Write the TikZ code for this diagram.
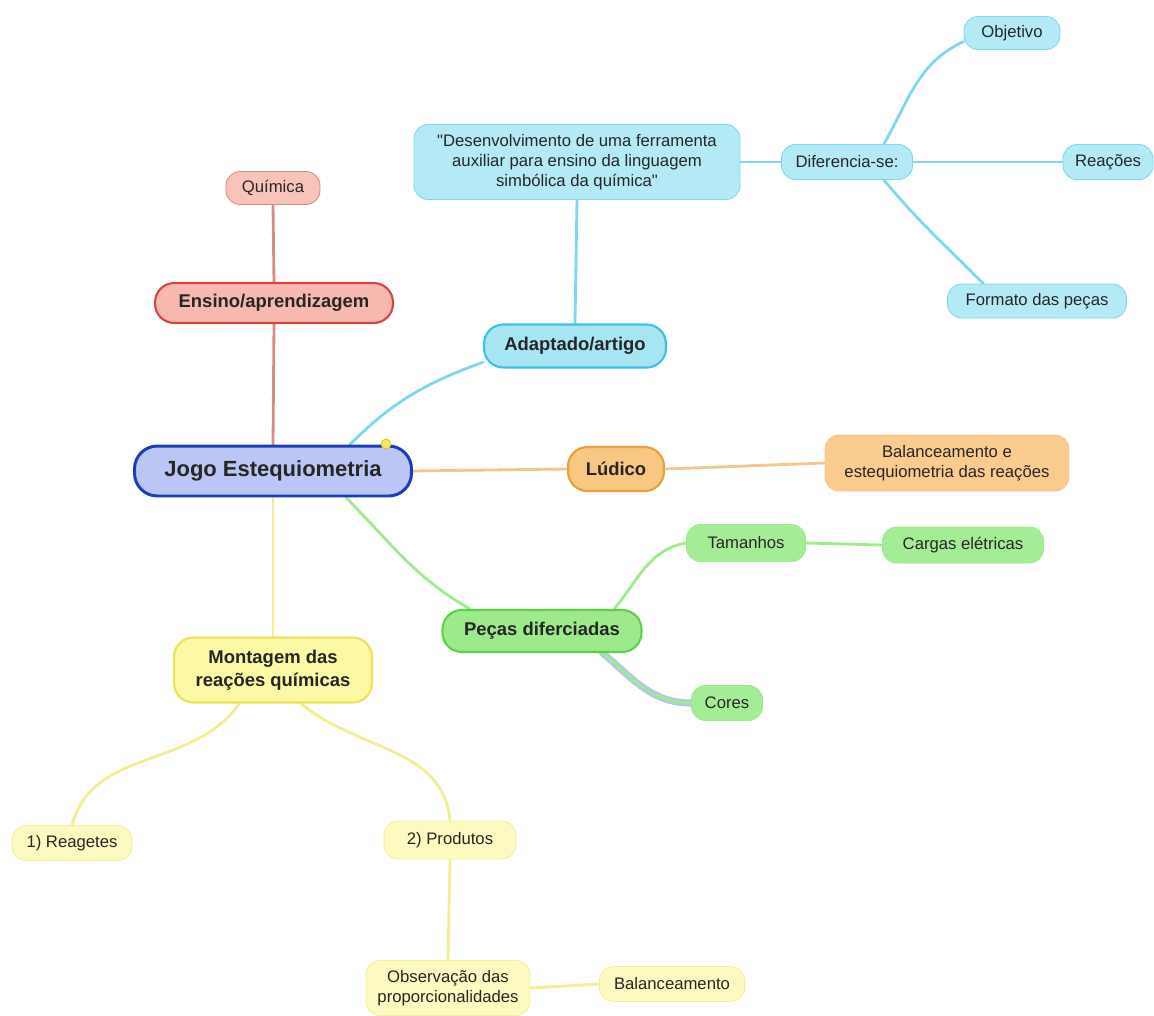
\documentclass[tikz,border=0pt]{standalone}
\usepackage{fontspec}
\setmainfont{Liberation Sans}
\usetikzlibrary{positioning, backgrounds}
\definecolor{mText}{HTML}{262626}
\definecolor{mBlueFill}{HTML}{BCC6F4}
\definecolor{mBlueLine}{HTML}{1B3DBD}
\definecolor{mRedFill}{HTML}{F6B8AF}
\definecolor{mRedLine}{HTML}{D6443F}
\definecolor{mRedSoft}{HTML}{F8C3B9}
\definecolor{mRedEdge}{HTML}{D98C86}
\definecolor{mCyanFill}{HTML}{A8E5F3}
\definecolor{mCyanLine}{HTML}{3CC2E2}
\definecolor{mCyanSoft}{HTML}{B4EAF6}
\definecolor{mCyanEdge}{HTML}{80D7EC}
\definecolor{mOrangeFill}{HTML}{F9C784}
\definecolor{mOrangeLine}{HTML}{E6A13A}
\definecolor{mOrangeSoft}{HTML}{FACB8F}
\definecolor{mOrangeEdge}{HTML}{F2C68D}
\definecolor{mGreenFill}{HTML}{9DEA8D}
\definecolor{mGreenLine}{HTML}{5BD248}
\definecolor{mGreenSoft}{HTML}{A5EC97}
\definecolor{mGreenEdge}{HTML}{A0E990}
\definecolor{mYellowFill}{HTML}{FBF8A6}
\definecolor{mYellowLine}{HTML}{EAE257}
\definecolor{mYellowSoft}{HTML}{FCFAC0}
\definecolor{mYellowEdge}{HTML}{F3EE95}
\definecolor{mShade}{HTML}{B4C6EE}

\begin{document}
\begin{tikzpicture}[x=0.02cm, y=0.02cm,
    box/.style={rounded corners=8pt, inner sep=0pt, align=center, text=mText,
      font=\fontsize{9.5}{11.5}\selectfont},
    leaf/.style={box, line width=0.5pt},
    topic/.style={box, rounded corners=11pt, line width=1.2pt,
      font=\bfseries\fontsize{10.5}{13}\selectfont},
    root/.style={box, rounded corners=13pt, line width=1.7pt, fill=mBlueFill, draw=mBlueLine,
      font=\bfseries\fontsize{12.5}{15}\selectfont},
    link/.style={line width=1.6pt, line cap=round}]
    % centre
    \node[root, minimum width=5.54cm, minimum height=1cm] (jogo) at (273,-471) {Jogo Estequiometria};
    \fill[yellow!80!olive!60, draw=yellow!60!olive] (386,-444) circle (5);
    % red branch
    \node[topic, fill=mRedFill, draw=mRedLine, minimum width=4.76cm, minimum height=0.8cm] (ensino) at (274,-303) {Ensino/aprendizagem};
    \node[leaf, fill=mRedSoft, draw=mRedEdge, minimum width=1.88cm, minimum height=0.66cm] (quimica) at (273,-188) {Química};
    % cyan branch
    \node[topic, fill=mCyanFill, draw=mCyanLine, minimum width=3.64cm, minimum height=0.86cm] (adaptado) at (575,-346) {Adaptado/artigo};
    \node[leaf, fill=mCyanSoft, draw=mCyanEdge, minimum width=6.52cm, minimum height=1.5cm] (artigo) at (577,-162)
      {\textquotedbl Desenvolvimento de uma ferramenta\\auxiliar para ensino da linguagem\\simbólica da química\textquotedbl};
    \node[leaf, fill=mCyanSoft, draw=mCyanEdge, minimum width=2.62cm, minimum height=0.7cm] (difere) at (847,-162) {Diferencia-se:};
    \node[leaf, fill=mCyanSoft, draw=mCyanEdge, minimum width=1.92cm, minimum height=0.66cm] (objetivo) at (1012,-33) {Objetivo};
    \node[leaf, fill=mCyanSoft, draw=mCyanEdge, minimum width=1.8cm, minimum height=0.7cm] (reacoes) at (1108,-162) {Reações};
    \node[leaf, fill=mCyanSoft, draw=mCyanEdge, minimum width=3.58cm, minimum height=0.68cm] (formato) at (1037,-301) {Formato das peças};
    % orange branch
    \node[topic, fill=mOrangeFill, draw=mOrangeLine, minimum width=1.92cm, minimum height=0.88cm] (ludico) at (616,-469) {Lúdico};
    \node[leaf, fill=mOrangeSoft, draw=mOrangeEdge, minimum width=4.88cm, minimum height=1.12cm] (balest) at (947,-463)
      {Balanceamento e\\estequiometria das reações};
    % green branch
    \node[topic, fill=mGreenFill, draw=mGreenLine, minimum width=3.98cm, minimum height=0.84cm] (pecas) at (542,-631) {Peças diferciadas};
    \node[leaf, fill=mGreenSoft, draw=mGreenEdge, minimum width=2.38cm, minimum height=0.74cm] (tamanhos) at (746,-543) {Tamanhos};
    \node[leaf, fill=mGreenSoft, draw=mGreenEdge, minimum width=3.22cm, minimum height=0.72cm] (cargas) at (963,-545) {Cargas elétricas};
    \node[leaf, fill=mGreenSoft, draw=mGreenEdge, minimum width=1.42cm, minimum height=0.7cm] (cores) at (727,-703) {Cores};
    % yellow branch
    \node[topic, fill=mYellowFill, draw=mYellowLine, minimum width=3.96cm, minimum height=1.3cm] (montagem) at (273,-670)
      {Montagem das\\reações químicas};
    \node[leaf, fill=mYellowSoft, draw=mYellowEdge, minimum width=2.4cm, minimum height=0.7cm] (reagetes) at (72,-843) {1) Reagetes};
    \node[leaf, fill=mYellowSoft, draw=mYellowEdge, minimum width=2.64cm, minimum height=0.76cm] (produtos) at (450,-840) {2) Produtos};
    \node[leaf, fill=mYellowSoft, draw=mYellowEdge, minimum width=3.28cm, minimum height=1.1cm] (observa) at (448,-988)
      {Observação das\\proporcionalidades};
    \node[leaf, fill=mYellowSoft, draw=mYellowEdge, minimum width=2.9cm, minimum height=0.7cm] (balanc) at (672,-984) {Balanceamento};

    \begin{scope}[on background layer]
      \path[use as bounding box, fill=white] (0,0) rectangle (1154,-1010);
      \draw[link, mRedEdge] (jogo.north) -- (ensino.south);
      \draw[link, mRedEdge] (ensino.north) -- (quimica.south);
      \draw[link, mCyanEdge] (jogo.19) to[out=45, in=200] (adaptado.190);
      \draw[link, mCyanEdge] (adaptado.north) -- (artigo.south);
      \draw[link, mCyanEdge] (artigo.east) -- (difere.west);
      \draw[link, mCyanEdge] (difere.26) to[out=60, in=205] (objetivo.190);
      \draw[link, mCyanEdge] (difere.east) -- (reacoes.west);
      \draw[link, mCyanEdge] (difere.-26) to[out=-50, in=135] (formato.162);
      \draw[link, mOrangeEdge] (jogo.east) -- (ludico.west);
      \draw[link, mOrangeEdge] (ludico.east) -- (balest.west);
      \draw[link, mGreenEdge] (jogo.-20) to[out=-45, in=150] (pecas.163);
      \draw[link, mGreenEdge] (pecas.17) to[out=50, in=190] (tamanhos.west);
      \draw[link, mGreenEdge] (tamanhos.east) -- (cargas.west);
      \draw[link, mShade, line width=4pt] (pecas.-20) to[out=-40, in=180] (cores.west);
      \draw[link, mGreenEdge] (pecas.-20) to[out=-40, in=180] (cores.west);
      \draw[link, mYellowEdge] (jogo.south) -- (montagem.north);
      \draw[link, mYellowEdge] (montagem.-135) to[out=-125, in=75] (reagetes.north);
      \draw[link, mYellowEdge] (montagem.-50) to[out=-40, in=95] (produtos.north);
      \draw[link, mYellowEdge] (produtos.south) -- (observa.north);
      \draw[link, mYellowEdge] (observa.east) -- (balanc.west);
    \end{scope}
  \end{tikzpicture}
\end{document}
